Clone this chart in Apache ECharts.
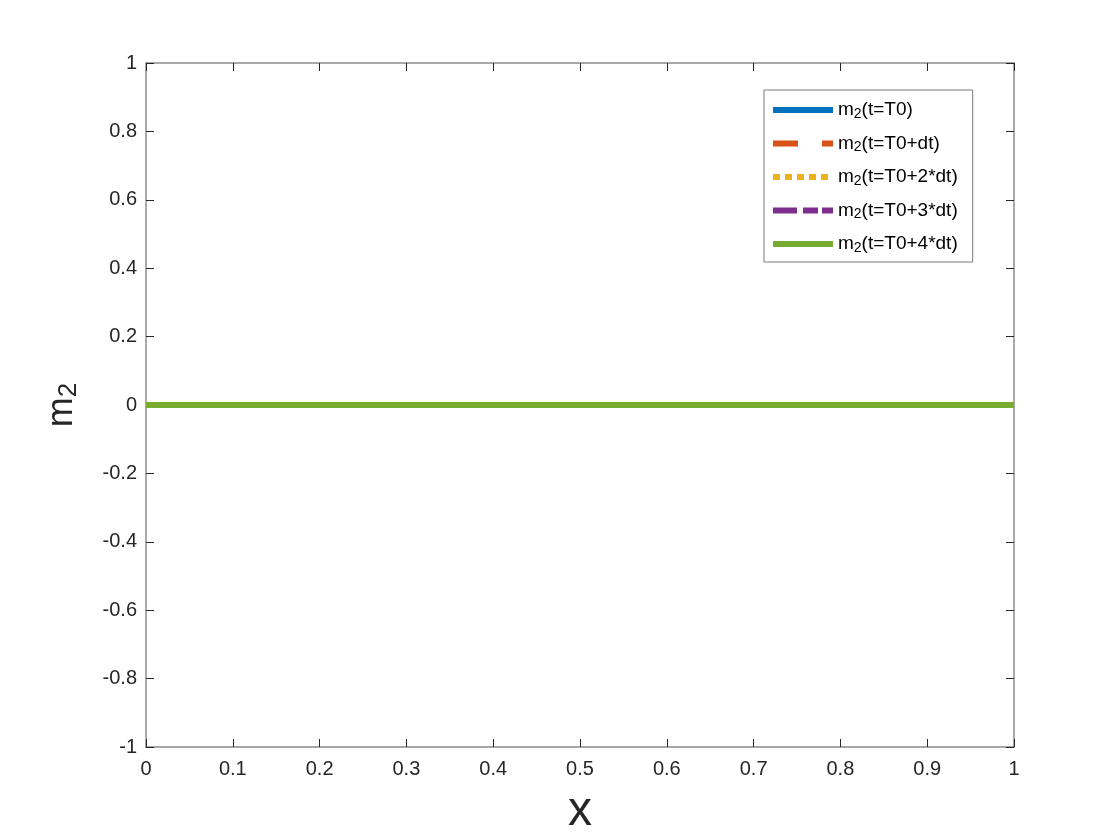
<!DOCTYPE html>
<html>
<head>
<meta charset="utf-8">
<script src="https://cdn.jsdelivr.net/npm/echarts@6/dist/echarts.min.js"></script>
<style>html,body{margin:0;padding:0;background:#fff}#c{width:1120px;height:840px}</style>
</head>
<body>
<div id="c"></div>
<script>
var xValues = [0, 0.1, 0.2, 0.3, 0.4, 0.5, 0.6, 0.7, 0.8, 0.9, 1];
var m2_T0 = [0, 0, 0, 0, 0, 0, 0, 0, 0, 0, 0];
var m2_T0dt = [0, 0, 0, 0, 0, 0, 0, 0, 0, 0, 0];
var m2_T02dt = [0, 0, 0, 0, 0, 0, 0, 0, 0, 0, 0];
var m2_T03dt = [0, 0, 0, 0, 0, 0, 0, 0, 0, 0, 0];
var m2_T04dt = [0, 0, 0, 0, 0, 0, 0, 0, 0, 0, 0];
var seriesNames = ['t=T0', 't=T0+dt', 't=T0+2*dt', 't=T0+3*dt', 't=T0+4*dt'];
var seriesData = [m2_T0, m2_T0dt, m2_T02dt, m2_T03dt, m2_T04dt];
var colors = ['#0072BD', '#D95319', '#EDB120', '#7E2F8E', '#77AC30'];
var dashes = ['solid', [25, 24], [7, 5], [24, 6, 15, 4], 'solid'];

var FONT = '"Liberation Sans", Arial, Helvetica, sans-serif';
var chart = echarts.init(document.getElementById('c'), null, {renderer: 'canvas'});

function pairs(ys) { return xValues.map(function (x, i) { return [x, ys[i]]; }); }

var series = seriesNames.map(function (n, i) {
  return {
    name: n, type: 'line', data: pairs(seriesData[i]),
    symbol: 'none', showSymbol: false, animation: false,
    lineStyle: {color: colors[i], width: 6, type: dashes[i]},
    itemStyle: {color: colors[i]},
    z: 2 + i
  };
});

var tickStyle = {show: true, inside: true, length: 8, lineStyle: {color: '#262626', width: 1}};
var lineStyle = {show: true, onZero: false, lineStyle: {color: '#8c8c8c', width: 1.5}};

chart.setOption({
  backgroundColor: '#fff',
  animation: false,
  grid: {left: 146, right: 106, top: 63, bottom: 93, containLabel: false, outerBoundsMode: 'none'},
  legend: {
    orient: 'vertical', left: 764, top: 90,
    data: seriesNames,
    itemWidth: 60, itemHeight: 14, itemGap: 7.5,
    padding: [5, 15, 7, 6],
    borderColor: '#7a7a7a', borderWidth: 1, backgroundColor: '#fff',
    itemStyle: {opacity: 0},
    lineStyle: {width: 6},
    formatter: function (n) { return '{a|m}{s|2}{a|(' + n + ')}'; },
    textStyle: {
      fontFamily: FONT, fontSize: 19, color: '#000',
      rich: {
        a: {fontFamily: FONT, fontSize: 19, color: '#000', lineHeight: 22},
        s: {fontFamily: FONT, fontSize: 14, color: '#000', verticalAlign: 'bottom', lineHeight: 10, padding: [12, 0, 0, 0]}
      }
    }
  },
  xAxis: [{
    type: 'value', min: 0, max: 1, interval: 0.1,
    name: 'x', nameLocation: 'middle', nameGap: 41,
    nameTextStyle: {fontFamily: FONT, fontSize: 48, color: '#262626'},
    axisLine: lineStyle, axisTick: tickStyle, splitLine: {show: false},
    axisLabel: {fontFamily: FONT, fontSize: 20, color: '#262626', margin: 12}
  }, {
    type: 'value', min: 0, max: 1, interval: 0.1, position: 'top',
    axisLine: lineStyle, axisTick: tickStyle, splitLine: {show: false},
    axisLabel: {show: false}
  }],
  yAxis: [{
    type: 'value', min: -1, max: 1, interval: 0.2,
    name: '{m|m}{s|2}', nameLocation: 'middle', nameGap: 64, nameRotate: 90,
    nameTextStyle: {
      fontFamily: FONT, fontSize: 36, color: '#262626',
      rich: {
        m: {fontFamily: FONT, fontSize: 36, color: '#262626', lineHeight: 40},
        s: {fontFamily: FONT, fontSize: 26, color: '#262626', verticalAlign: 'bottom', lineHeight: 20, padding: [20, 0, 0, 0]}
      }
    },
    axisLine: lineStyle, axisTick: tickStyle, splitLine: {show: false},
    axisLabel: {fontFamily: FONT, fontSize: 20, color: '#262626', margin: 9,
      formatter: function (v) { return String(Math.round(v * 10) / 10); }}
  }, {
    type: 'value', min: -1, max: 1, interval: 0.2, position: 'right',
    axisLine: lineStyle, axisTick: tickStyle, splitLine: {show: false},
    axisLabel: {show: false}
  }],
  series: series
});
</script>
</body>
</html>
